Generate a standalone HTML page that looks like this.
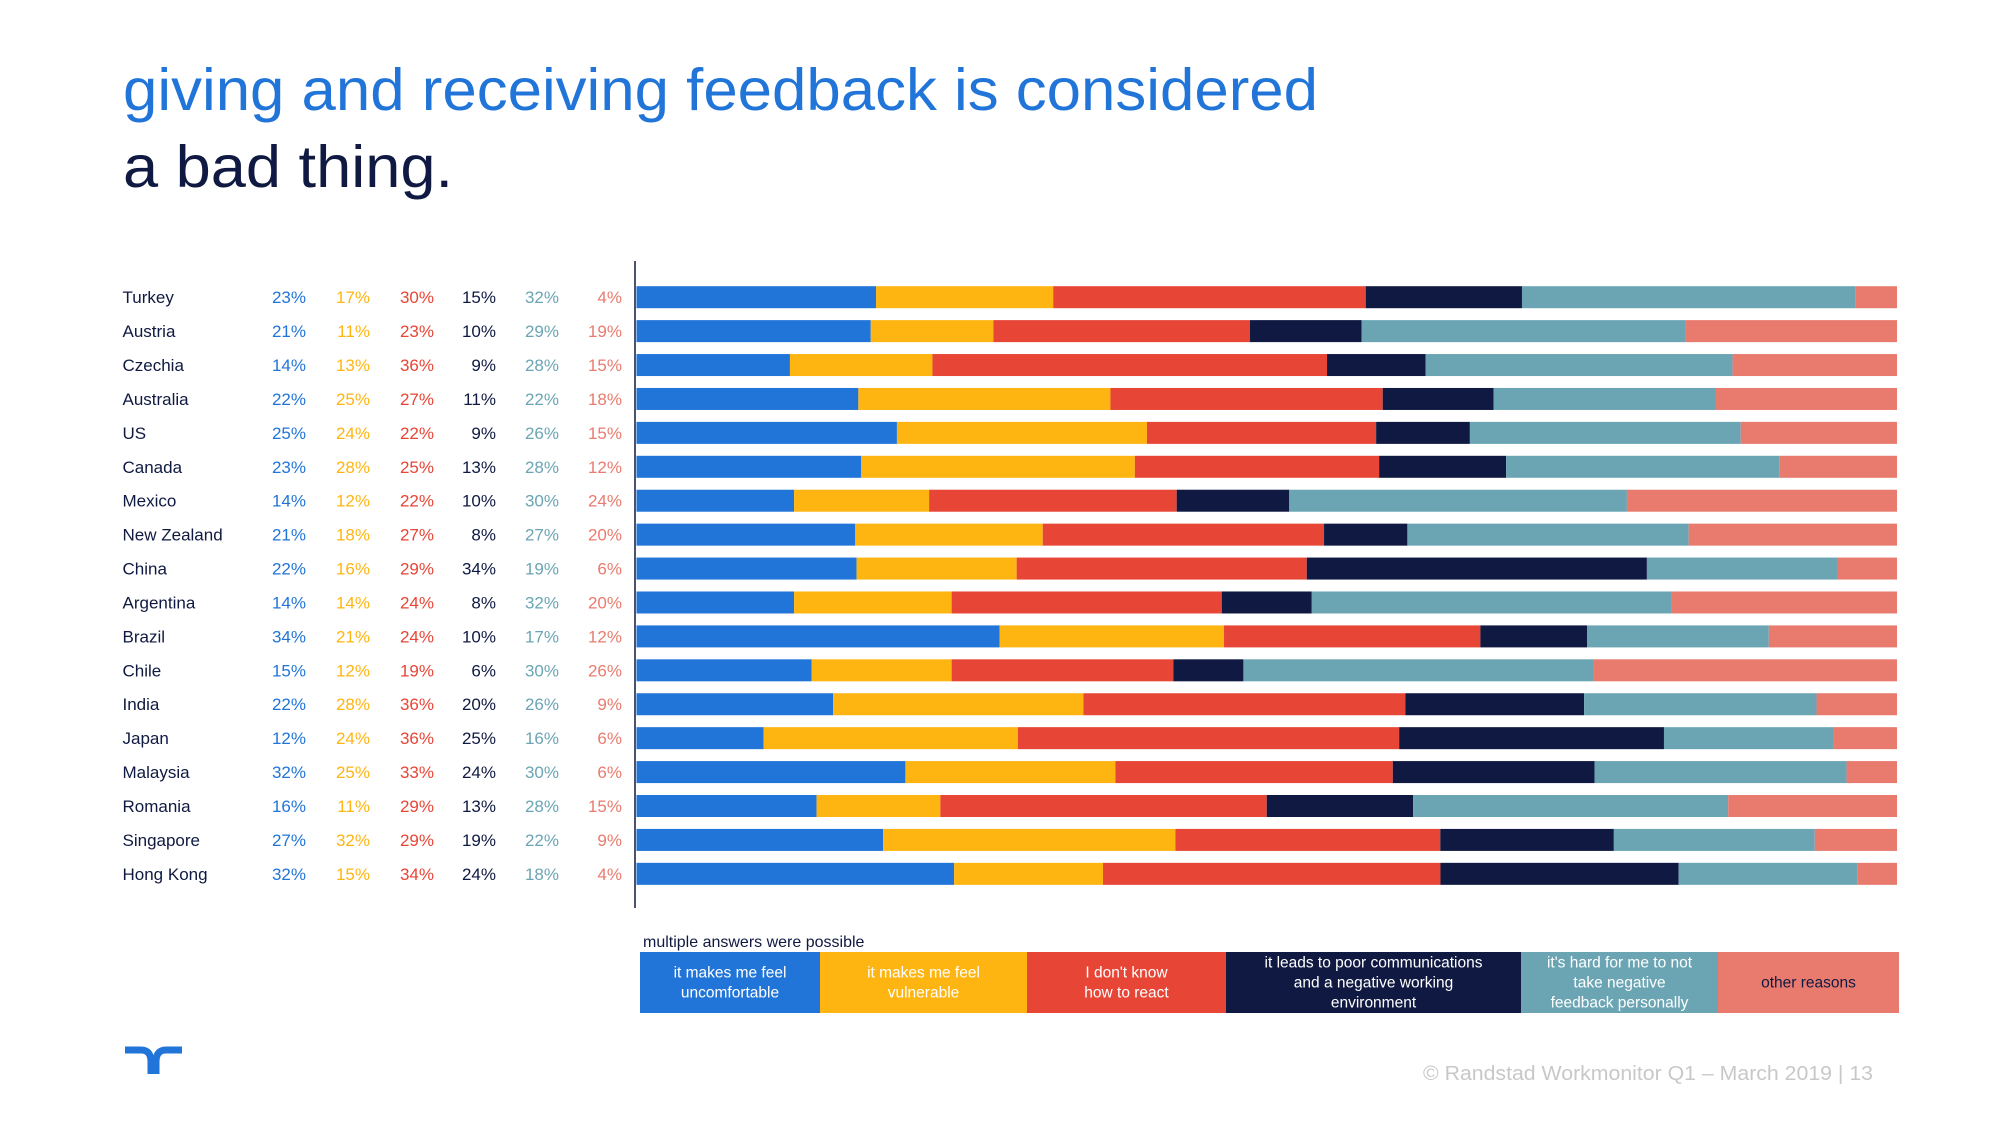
<!DOCTYPE html>
<html><head><meta charset="utf-8"><style>
html,body{margin:0;padding:0;background:#fff}
svg{display:block;font-family:"Liberation Sans",sans-serif}
</style></head><body>
<svg id="chart" width="2000" height="1125" viewBox="0 0 2000 1125" xmlns="http://www.w3.org/2000/svg">
<text x="123" y="110" font-size="59" fill="#2175d9" textLength="1195" lengthAdjust="spacingAndGlyphs">giving and receiving feedback is considered</text>
<text x="123" y="187" font-size="59" fill="#0f1941" textLength="330" lengthAdjust="spacingAndGlyphs">a bad thing.</text>
<line x1="635" y1="261" x2="635" y2="908" stroke="#0f1941" stroke-width="1.5"/>
<g id="rows"></g>
<text x="643" y="947" font-size="16" fill="#0f1941">multiple answers were possible</text>
<g id="legend"></g>
<text x="1873" y="1080" font-size="20" fill="#c8c8c8" text-anchor="end" textLength="450" lengthAdjust="spacingAndGlyphs">© Randstad Workmonitor Q1 – March 2019 | 13</text>
<g fill="none" stroke="#2175d9" stroke-width="7">
<path d="M125 1050 H141 Q151 1050 151 1062 V1074"/>
<path d="M182 1050 H166 Q156 1050 156 1062 V1074"/>
</g>
</svg>
<script>
const countries=["Turkey","Austria","Czechia","Australia","US","Canada","Mexico","New Zealand","China","Argentina","Brazil","Chile","India","Japan","Malaysia","Romania","Singapore","Hong Kong"];
const uncomfortable=[23,21,14,22,25,23,14,21,22,14,34,15,22,12,32,16,27,32];
const vulnerable=[17,11,13,25,24,28,12,18,16,14,21,12,28,24,25,11,32,15];
const dontKnow=[30,23,36,27,22,25,22,27,29,24,24,19,36,36,33,29,29,34];
const poorComms=[15,10,9,11,9,13,10,8,34,8,10,6,20,25,24,13,19,24];
const personal=[32,29,28,22,26,28,30,27,19,32,17,30,26,16,30,28,22,18];
const other=[4,19,15,18,15,12,24,20,6,20,12,26,9,6,6,15,9,4];
const seriesLabels=[["it makes me feel","uncomfortable"],["it makes me feel","vulnerable"],["I don't know","how to react"],["it leads to poor communications","and a negative working","environment"],["it's hard for me to not","take negative","feedback personally"],["other reasons"]];
const series=[uncomfortable,vulnerable,dontKnow,poorComms,personal,other];
const colors=["#2175d9","#ffb511","#e74536","#0f1941","#6ba5b4","#e97b6e"];
const legendText=["#fff","#fff","#fff","#fff","#fff","#0f1941"];
const ns="http://www.w3.org/2000/svg";
const rows=document.getElementById('rows');
const x0=636.5,x1=1897,y0=297.2,step=33.92,bh=22;
const colX=[306,370,434,496,559,622];
function xs(frac){return x0+frac*(x1-x0);}
function yc(i){return y0+i*step;}
function mk(tag,attrs,parent){const e=document.createElementNS(ns,tag);for(const k in attrs)e.setAttribute(k,attrs[k]);parent.appendChild(e);return e;}
countries.forEach((c,i)=>{
  const y=yc(i);
  const t=mk('text',{x:122.5,y:y+6,'font-size':17,fill:'#0f1941'},rows);
  
  
  t.textContent=c;
  const total=series.reduce((s,a)=>s+a[i],0);
  let acc=0;
  series.forEach((a,j)=>{
    const v=mk('text',{x:colX[j],y:y+6,'font-size':17,fill:colors[j],'text-anchor':'end'},rows);
    
    
    v.textContent=a[i]+'%';
    const xa=xs(acc/total);acc+=a[i];const xb=xs(acc/total);
    const r=mk('rect',{x:xa,y:y-bh/2,width:xb-xa,height:bh,fill:colors[j]},rows);
    
    
  });
});
const lg=document.getElementById('legend');
const lx=[640,820,1027,1226,1521,1718,1899];
seriesLabels.forEach((lines,j)=>{
  const r=mk('rect',{x:lx[j],y:952,width:lx[j+1]-lx[j],height:61,fill:colors[j]},lg);
  
  
  const cx=(lx[j]+lx[j+1])/2;
  const n=lines.length;
  lines.forEach((ln,k)=>{
    const t=mk('text',{x:cx,y:982.5+(k-(n-1)/2)*20+5,'font-size':15.5,fill:legendText[j],'text-anchor':'middle'},lg);
    
    
    t.textContent=ln;
  });
});
</script>
</body></html>
